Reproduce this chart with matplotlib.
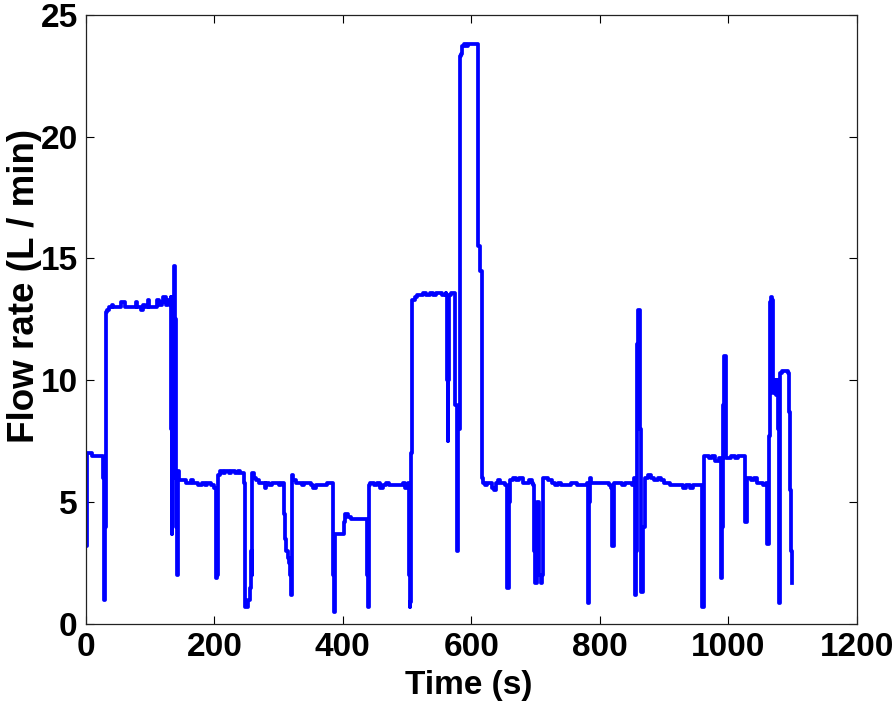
import matplotlib
matplotlib.use("Agg")
import matplotlib.pyplot as plt

# flow record, (time s, flow L/min), split by time range
seg_0_145 = [(0, 3.2), (0.5, 3.2), (1, 7.0), (8, 7.0), (10, 6.9), (24, 6.9), (26, 6.8),
             (27, 6.0), (28, 1.0), (29, 1.0), (30, 4.0), (31, 12.8), (33, 12.9), (36, 13.0),
             (40, 13.1), (42, 13.0), (52, 13.0), (55, 13.2), (58, 13.2), (60, 13.0),
             (75, 13.0), (78, 13.2), (80, 13.0), (85, 12.9), (88, 13.1), (92, 13.0),
             (96, 13.3), (98, 13.0), (106, 13.0), (110, 13.3), (113, 13.1), (118, 13.2),
             (120, 13.4), (124, 13.1), (128, 13.3), (131, 13.2), (132, 13.4), (133, 8.0),
             (133.5, 3.7), (134, 12.5), (135, 13.3), (136, 6.0), (137, 14.7), (138, 14.7),
             (139, 12.5), (140, 4.0), (141, 2.0), (142, 2.0), (143, 6.3), (145, 5.9)]

seg_145_320 = [(150, 5.9), (155, 5.8), (160, 5.8), (163, 5.9), (166, 5.8), (172, 5.8),
               (175, 5.7), (180, 5.8), (185, 5.7), (188, 5.8), (195, 5.7), (200, 5.6),
               (201, 5.6), (202, 3.0), (203, 1.9), (204, 2.0), (205, 5.0), (206, 6.1),
               (208, 6.3), (213, 6.2), (216, 6.3), (222, 6.2), (226, 6.3), (232, 6.2),
               (236, 6.3), (240, 6.2), (245, 6.2), (246, 5.8), (247, 3.0), (248, 0.7),
               (250, 0.7), (252, 1.0), (255, 1.5), (257, 3.0), (258, 2.0), (259, 6.2),
               (262, 6.0), (265, 5.9), (270, 5.8), (275, 5.8), (278, 5.6), (281, 5.8),
               (285, 5.7), (290, 5.8), (296, 5.8), (300, 5.7), (303, 5.8), (306, 5.8),
               (308, 4.5), (310, 3.5), (312, 3.0), (314, 2.7), (316, 2.5), (318, 2.0),
               (319, 1.2), (320, 1.2)]

seg_320_510 = [(321, 6.1), (323, 5.9), (327, 5.8), (333, 5.8), (336, 5.7), (340, 5.8),
               (345, 5.8), (350, 5.7), (353, 5.6), (358, 5.7), (363, 5.7), (370, 5.7),
               (375, 5.8), (382, 5.8), (384, 5.0), (385, 2.0), (386, 0.5), (387, 0.5),
               (388, 3.7), (395, 3.7), (400, 3.7), (402, 4.2), (404, 4.5), (408, 4.4),
               (413, 4.3), (420, 4.3), (430, 4.3), (437, 4.3), (438, 2.0), (439, 0.7),
               (440, 0.7), (441, 5.7), (443, 5.8), (446, 5.8), (449, 5.7), (453, 5.8),
               (458, 5.6), (462, 5.7), (467, 5.8), (472, 5.7), (480, 5.7), (485, 5.7),
               (490, 5.7), (494, 5.8), (497, 5.6), (500, 5.7), (502, 5.8), (503, 2.0),
               (504, 0.7), (505, 0.9), (506, 7.0), (507, 7.0), (508, 13.3)]

seg_510_620 = [(512, 13.4), (515, 13.5), (520, 13.5), (525, 13.6), (530, 13.5),
               (535, 13.6), (540, 13.5), (545, 13.6), (550, 13.6), (555, 13.5),
               (560, 13.6), (561, 13.5), (562, 10.0), (563, 7.5), (564, 10.0),
               (565, 13.5), (568, 13.6), (573, 13.6), (574, 13.6), (575, 9.0), (577, 6.0),
               (578, 3.0), (579, 3.0), (580, 8.0), (582, 23.3), (584, 23.4), (586, 23.7),
               (589, 23.8), (592, 23.7), (595, 23.8), (600, 23.8), (605, 23.8),
               (610, 23.8), (611, 15.5), (613, 15.5), (614, 14.5), (616, 14.5),
               (617, 6.0), (618, 5.8)]

seg_620_870 = [(622, 5.7), (625, 5.8), (630, 5.8), (633, 5.6), (636, 5.5), (638, 5.8),
               (642, 5.9), (645, 5.8), (650, 5.8), (653, 5.7), (654, 5.7), (655, 3.0),
               (656, 1.5), (657, 1.5), (658, 5.0), (661, 5.9), (665, 6.0), (670, 5.9),
               (675, 6.0), (680, 5.8), (685, 5.8), (690, 5.9), (695, 5.8), (696, 5.7),
               (697, 3.0), (699, 1.7), (701, 1.7), (703, 5.0), (705, 2.0), (708, 1.7),
               (710, 2.0), (711, 4.5), (712, 6.0), (716, 6.0), (720, 5.9), (725, 5.8),
               (730, 5.7), (735, 5.8), (740, 5.7), (745, 5.7), (750, 5.7), (755, 5.8),
               (760, 5.8), (765, 5.7), (770, 5.7), (775, 5.7), (780, 5.8), (781, 4.0),
               (782, 0.85), (783, 0.85), (784, 5.0), (785, 6.0), (787, 5.8), (792, 5.8),
               (800, 5.8), (810, 5.8), (815, 5.7), (818, 5.6), (819, 3.2), (820, 3.2),
               (822, 5.5), (823, 5.8), (826, 5.8), (830, 5.8), (835, 5.7), (840, 5.8),
               (845, 5.8), (850, 5.7), (853, 5.8), (854, 6.0), (855, 1.2), (856, 3.0),
               (858, 11.5), (859, 12.3), (860, 12.9), (861, 12.9), (862, 8.0), (864, 5.0),
               (865, 1.3), (867, 1.3), (868, 4.0), (870, 6.0)]

seg_870_1100 = [(875, 6.1), (880, 6.0), (885, 5.9), (890, 6.0), (895, 5.9), (900, 5.8),
                (905, 5.8), (910, 5.7), (915, 5.7), (920, 5.7), (925, 5.7), (930, 5.6),
                (935, 5.7), (940, 5.6), (945, 5.7), (950, 5.7), (955, 5.7), (958, 5.7),
                (959, 0.7), (961, 0.7), (962, 3.5), (963, 6.9), (965, 6.9), (970, 6.8),
                (975, 6.9), (980, 6.7), (985, 6.8), (988, 6.8), (989, 1.9), (990, 1.9),
                (991, 4.0), (992, 9.0), (993, 11.0), (995, 11.0), (996, 6.8), (1000, 6.8),
                (1005, 6.9), (1010, 6.8), (1015, 6.9), (1020, 6.9), (1026, 6.8),
                (1027, 4.2), (1028, 4.2), (1029, 6.0), (1032, 6.0), (1035, 5.9),
                (1040, 6.0), (1045, 5.8), (1050, 5.8), (1055, 5.7), (1059, 5.8),
                (1060, 4.5), (1061, 3.3), (1063, 7.7), (1065, 13.2), (1066, 13.4),
                (1069, 13.3), (1070, 9.5), (1072, 10.0), (1074, 9.4), (1076, 10.0),
                (1078, 8.0), (1079, 0.85), (1080, 0.85), (1081, 10.3), (1084, 10.4),
                (1093, 10.3), (1094, 8.7), (1096, 5.5), (1098, 3.0), (1099, 1.7)]

x_ticks = [0, 200, 400, 600, 800, 1000, 1200]
y_ticks = [0, 5, 10, 15, 20, 25]

record = seg_0_145 + seg_145_320 + seg_320_510 + seg_510_620 + seg_620_870 + seg_870_1100
time = [p[0] for p in record]
flow = [p[1] for p in record]

plt.rcParams["font.family"] = ["Liberation Sans", "DejaVu Sans"]
plt.rcParams["font.weight"] = "bold"

fig = plt.figure(figsize=(8.96, 7.02), dpi=100)
ax = fig.add_axes([0.096, 0.111, 0.86, 0.868])

ax.plot(time, flow, color="#0000ff", linewidth=2.7, drawstyle="steps-post")

ax.set_xlim(0, 1200)
ax.set_ylim(0, 25)
ax.set_xticks(x_ticks)
ax.set_yticks(y_ticks)
ax.tick_params(direction="in", length=6, width=0.8, top=True, right=True,
               labelsize=24, pad=6)
for lab in ax.get_xticklabels() + ax.get_yticklabels():
    lab.set_fontweight("bold")
for sp in ax.spines.values():
    sp.set_linewidth(0.9)
    sp.set_color("#222222")

ax.set_xlabel("Time (s)", fontsize=24, fontweight="bold")
ax.set_ylabel("Flow rate (L / min)", fontsize=26.5, fontweight="bold")
ax.xaxis.set_label_coords(0.497, -0.075)
ax.yaxis.set_label_coords(-0.0565, 0.555)

fig.savefig("out.png", dpi=100)
